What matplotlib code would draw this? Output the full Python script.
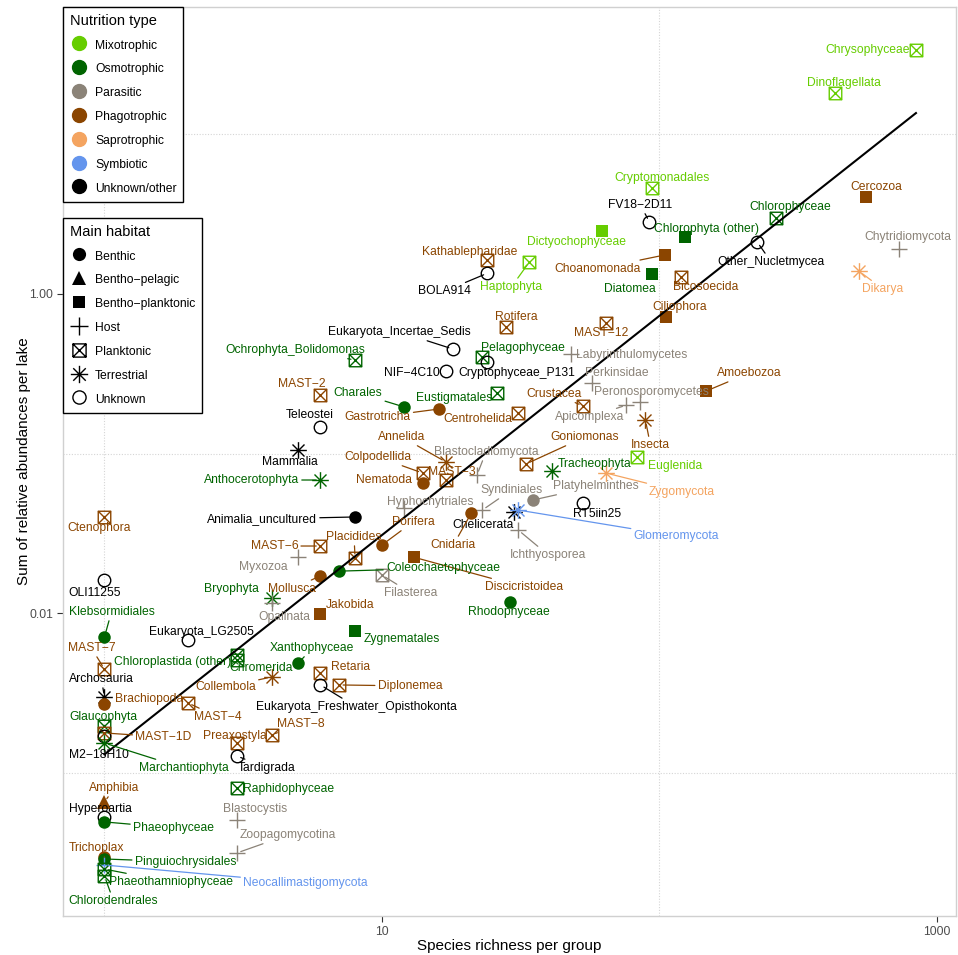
import numpy as np
import matplotlib.pyplot as plt
from matplotlib.path import Path
from matplotlib.lines import Line2D
from matplotlib.ticker import FixedLocator, NullFormatter

plt.rcParams['font.family'] = ['Liberation Sans', 'DejaVu Sans']

groups = ["Chrysophyceae", "Dinoflagellata", "Cryptomonadales", "FV18-2D11", "Chlorophyta (other)",
          "Chlorophyceae", "Other_Nucletmycea", "Cercozoa", "Chytridiomycota", "Dikarya",
          "Choanomonada", "Diatomea", "Bicosoecida", "Ciliophora", "Amoebozoa",
          "Dictyochophyceae", "Haptophyta", "Kathablepharidae", "BOLA914", "Rotifera",
          "MAST-12", "Eukaryota_Incertae_Sedis", "Ochrophyta_Bolidomonas", "Pelagophyceae", "Cryptophyceae_P131",
          "NIF-4C10", "Labyrinthulomycetes", "Perkinsidae", "Peronosporomycetes", "Apicomplexa",
          "Crustacea", "MAST-2", "Charales", "Eustigmatales", "Gastrotricha",
          "Centrohelida", "Teleostei", "Insecta", "Goniomonas", "Annelida",
          "Blastocladiomycota", "Mammalia", "Colpodellida", "MAST-3", "Euglenida",
          "Tracheophyta", "Zygomycota", "Anthocerotophyta", "Nematoda", "Platyhelminthes",
          "Syndiniales", "Hyphochytriales", "RT5iin25", "Chelicerata", "Glomeromycota",
          "Cnidaria", "Animalia_uncultured", "Porifera", "Ichthyosporea", "Placidides",
          "MAST-6", "Myxozoa", "Discicristoidea", "Coleochaetophyceae", "Filasterea",
          "Mollusca", "Bryophyta", "Rhodophyceae", "Opalinata", "Jakobida",
          "Ctenophora", "OLI11255", "Klebsormidiales", "MAST-7", "Archosauria",
          "Brachiopoda", "Glaucophyta", "MAST-1D", "M2-18H10", "Marchantiophyta",
          "Amphibia", "Hyperoartia", "Phaeophyceae", "Trichoplax", "Pinguiochrysidales",
          "Neocallimastigomycota", "Phaeothamniophyceae", "Chlorodendrales", "Eukaryota_LG2505", "Chloroplastida (other)",
          "Chromerida", "Xanthophyceae", "Collembola", "Zygnematales", "Retaria",
          "Eukaryota_Freshwater_Opisthokonta", "Diplonemea", "MAST-4", "MAST-8", "Preaxostyla",
          "Tardigrada", "Raphidophyceae", "Blastocystis", "Zoopagomycotina"]

richness = [840, 429, 94, 92, 124,
            263, 225, 555, 730, 524,
            105, 94, 120, 106, 147,
            62, 34, 24, 24, 28,
            64, 18, 8, 23, 24,
            17, 48, 57, 85, 76,
            53, 6, 12, 26, 16,
            31, 6, 89, 33, 17,
            22, 5, 14, 17, 83,
            41, 64, 6, 14, 35,
            23, 12, 53, 30, 31,
            21, 8, 10, 31, 8,
            6, 5, 13, 7, 10,
            6, 4, 29, 4, 6,
            1, 1, 1, 1, 1,
            1, 1, 1, 1, 1,
            1, 1, 1, 1, 1,
            1, 1, 1, 2, 3,
            3, 5, 4, 8, 6,
            6, 7, 2, 4, 3,
            3, 3, 3, 3]

abundance = [34, 18.2, 4.62, 2.83, 2.28,
             3.0, 2.12, 4.06, 1.92, 1.39,
             1.76, 1.33, 1.28, 0.718, 0.246,
             2.48, 1.59, 1.63, 1.35, 0.621,
             0.658, 0.452, 0.386, 0.403, 0.375,
             0.329, 0.42, 0.277, 0.21, 0.201,
             0.199, 0.233, 0.196, 0.239, 0.19,
             0.179, 0.147, 0.162, 0.0859, 0.0885,
             0.0733, 0.105, 0.0755, 0.0682, 0.0951,
             0.0777, 0.0755, 0.0682, 0.0653, 0.0511,
             0.0442, 0.0455, 0.049, 0.043, 0.0442,
             0.0424, 0.04, 0.0267, 0.0331, 0.0221,
             0.0263, 0.0224, 0.0224, 0.0183, 0.0173,
             0.0171, 0.0124, 0.0117, 0.0115, 0.00986,
             0.04, 0.0161, 0.00707, 0.00445, 0.00297,
             0.00269, 0.00196, 0.00177, 0.00169, 0.00153,
             0.000653, 0.000526, 0.00049, 0.000295, 0.000287,
             0.000263, 0.000248, 0.000225, 0.00677, 0.00545,
             0.00507, 0.00486, 0.00397, 0.0077, 0.00421,
             0.00354, 0.00354, 0.00273, 0.00172, 0.00153,
             0.00127, 0.0008, 0.000504, 0.000313]

# Mix Osm Par Pha Sap Sym Unk
nutrition = ["Mix", "Mix", "Mix", "Unk", "Osm",
             "Osm", "Unk", "Pha", "Par", "Sap",
             "Pha", "Osm", "Pha", "Pha", "Pha",
             "Mix", "Mix", "Pha", "Unk", "Pha",
             "Pha", "Unk", "Osm", "Osm", "Unk",
             "Unk", "Par", "Par", "Par", "Par",
             "Pha", "Pha", "Osm", "Osm", "Pha",
             "Pha", "Unk", "Pha", "Pha", "Pha",
             "Par", "Unk", "Pha", "Pha", "Mix",
             "Osm", "Sap", "Osm", "Pha", "Par",
             "Par", "Par", "Unk", "Unk", "Sym",
             "Pha", "Unk", "Pha", "Par", "Pha",
             "Pha", "Par", "Pha", "Osm", "Par",
             "Pha", "Osm", "Osm", "Par", "Pha",
             "Pha", "Unk", "Osm", "Pha", "Unk",
             "Pha", "Osm", "Pha", "Unk", "Osm",
             "Pha", "Unk", "Osm", "Pha", "Osm",
             "Sym", "Osm", "Osm", "Unk", "Osm",
             "Osm", "Osm", "Pha", "Osm", "Pha",
             "Unk", "Pha", "Pha", "Pha", "Pha",
             "Unk", "Osm", "Par", "Par"]

# B benthic, BPe bentho-pelagic, BPl bentho-planktonic, H host, P planktonic, T terrestrial, U unknown
habitat = ["P", "P", "P", "U", "BPl",
           "P", "U", "BPl", "H", "T",
           "BPl", "BPl", "P", "BPl", "BPl",
           "BPl", "P", "P", "U", "P",
           "P", "U", "P", "P", "U",
           "U", "H", "H", "H", "H",
           "P", "P", "B", "P", "B",
           "P", "U", "T", "P", "T",
           "H", "T", "P", "P", "P",
           "T", "T", "T", "B", "B",
           "H", "H", "U", "T", "T",
           "B", "B", "B", "H", "P",
           "P", "H", "BPl", "B", "P",
           "B", "T", "B", "H", "BPl",
           "P", "U", "B", "P", "T",
           "B", "P", "P", "U", "T",
           "BPe", "U", "B", "B", "B",
           "H", "P", "P", "U", "P",
           "P", "B", "T", "BPl", "P",
           "U", "P", "P", "P", "P",
           "U", "P", "H", "H"]

nutr_names = {"Mix": "Mixotrophic", "Osm": "Osmotrophic", "Par": "Parasitic", "Pha": "Phagotrophic",
              "Sap": "Saprotrophic", "Sym": "Symbiotic", "Unk": "Unknown/other"}
nutr_colors = {"Mix": "#66CD00", "Osm": "#006400", "Par": "#8B8378", "Pha": "#8B4500",
               "Sap": "#F4A460", "Sym": "#6495ED", "Unk": "#000000"}
hab_names = {"B": "Benthic", "BPe": "Bentho\u2212pelagic", "BPl": "Bentho\u2212planktonic", "H": "Host",
             "P": "Planktonic", "T": "Terrestrial", "U": "Unknown"}

# label placement (pixel offsets from the point, right / up)
label_offset = {
    "Chrysophyceae": (-48, 0), "Dinoflagellata": (9, 10), "Cryptomonadales": (10, 10),
    "FV18-2D11": (-9, 17), "Chlorophyta (other)": (21, 8), "Chlorophyceae": (14, 11),
    "Other_Nucletmycea": (14, -20), "Cercozoa": (10, 10), "Chytridiomycota": (9, 12),
    "Dikarya": (24, -18), "Choanomonada": (-68, -14), "Diatomea": (-22, -15),
    "Bicosoecida": (24, -10), "Ciliophora": (13, 10), "Amoebozoa": (43, 18),
    "Dictyochophyceae": (-25, -11), "Haptophyta": (-18, -25), "Kathablepharidae": (-18, 8),
    "BOLA914": (-43, -18), "Rotifera": (10, 10), "MAST-12": (-4, -10),
    "Eukaryota_Incertae_Sedis": (-53, 17), "Ochrophyta_Bolidomonas": (-60, 10), "Pelagophyceae": (41, 9),
    "Cryptophyceae_P131": (29, -11), "NIF-4C10": (-34, -2), "Labyrinthulomycetes": (61, -1),
    "Perkinsidae": (25, 10), "Peronosporomycetes": (12, 10), "Apicomplexa": (-37, -12),
    "Crustacea": (-29, 12), "MAST-2": (-19, 11), "Charales": (-46, 14),
    "Eustigmatales": (-43, -5), "Gastrotricha": (-61, -8), "Centrohelida": (-40, -6),
    "Teleostei": (-11, 12), "Insecta": (5, -25), "Goniomonas": (59, 27),
    "Annelida": (-44, 25), "Blastocladiomycota": (9, 23), "Mammalia": (-9, -12),
    "Colpodellida": (-45, 16), "MAST-3": (6, 8), "Euglenida": (38, -9),
    "Tracheophyta": (43, 7), "Zygomycota": (76, -19), "Anthocerotophyta": (-69, 0),
    "Nematoda": (-39, 3), "Platyhelminthes": (63, 14), "Syndiniales": (29, 20),
    "Hyphochytriales": (26, 6), "RT5iin25": (14, -11), "Chelicerata": (-31, -13),
    "Glomeromycota": (158, -26), "Cnidaria": (-18, -32), "Animalia_uncultured": (-93, -2),
    "Porifera": (31, 23), "Ichthyosporea": (30, -25), "Placidides": (-1, 21),
    "MAST-6": (-46, 0), "Myxozoa": (-35, -10), "Discicristoidea": (110, -30),
    "Coleochaetophyceae": (104, 3), "Filasterea": (29, -18), "Mollusca": (-28, -13),
    "Bryophyta": (-40, 9), "Rhodophyceae": (-1, -10), "Opalinata": (13, -14),
    "Jakobida": (30, 9), "Ctenophora": (-5, -11), "OLI11255": (-10, -13),
    "Klebsormidiales": (7, 25), "MAST-7": (-13, 21), "Archosauria": (-3, 18),
    "Brachiopoda": (45, 5), "Glaucophyta": (-1, 9), "MAST-1D": (59, -4),
    "M2-18H10": (-6, -19), "Marchantiophyta": (79, -25), "Amphibia": (10, 14),
    "Hyperoartia": (-4, 8), "Phaeophyceae": (69, -6), "Trichoplax": (-8, 9),
    "Pinguiochrysidales": (81, -3), "Neocallimastigomycota": (201, -18), "Phaeothamniophyceae": (67, -13),
    "Chlorodendrales": (9, -25), "Eukaryota_LG2505": (13, 8), "Chloroplastida (other)": (-64, -7),
    "Chromerida": (24, -8), "Xanthophyceae": (14, 15), "Collembola": (-46, -10),
    "Zygnematales": (47, -8), "Retaria": (30, 6), "Eukaryota_Freshwater_Opisthokonta": (36, -22),
    "Diplonemea": (71, -1), "MAST-4": (30, -14), "MAST-8": (29, 11),
    "Preaxostyla": (-2, 7), "Tardigrada": (30, -12), "Raphidophyceae": (52, -1),
    "Blastocystis": (18, 11), "Zoopagomycotina": (51, 18),
}
with_line = {"FV18-2D11", "Other_Nucletmycea", "Dikarya", "Choanomonada", "Haptophyta", "BOLA914",
             "Amoebozoa", "Eukaryota_Incertae_Sedis", "Ochrophyta_Bolidomonas", "Charales", "Gastrotricha",
             "Crustacea", "Apicomplexa", "Insecta", "Goniomonas", "Annelida", "Blastocladiomycota",
             "Colpodellida", "Zygomycota", "Platyhelminthes", "Syndiniales", "Glomeromycota", "Cnidaria",
             "Porifera", "Animalia_uncultured", "Ichthyosporea", "Placidides", "MAST-6", "Anthocerotophyta",
             "Discicristoidea", "Coleochaetophyceae", "Filasterea", "Mollusca", "Klebsormidiales", "MAST-7",
             "Archosauria", "MAST-1D", "Marchantiophyta", "Phaeophyceae", "Pinguiochrysidales",
             "Neocallimastigomycota", "Phaeothamniophyceae", "Chlorodendrales",
             "Eukaryota_Freshwater_Opisthokonta", "Diplonemea", "MAST-4", "Zoopagomycotina", "Collembola",
             "Xanthophyceae", "Tardigrada", "Jakobida", "MAST-8", "Amphibia", "Trichoplax"}

# marker shapes like ggplot 16, 17, 15, 3, 7, 8, 1
boxx = Path([(-1, -1), (1, -1), (1, 1), (-1, 1), (-1, -1), (-1, -1), (1, 1), (-1, 1), (1, -1)],
            [1, 2, 2, 2, 2, 1, 2, 1, 2])
d = 0.72
aster = Path([(-1, 0), (1, 0), (0, -1), (0, 1), (-d, -d), (d, d), (-d, d), (d, -d)],
             [1, 2, 1, 2, 1, 2, 1, 2])
hab_style = {"B": dict(marker="o", ms=9, filled=True),
             "BPe": dict(marker="^", ms=10, filled=True),
             "BPl": dict(marker="s", ms=8.5, filled=True),
             "H": dict(marker="+", ms=12, filled=False),
             "P": dict(marker=boxx, ms=9, filled=False),
             "T": dict(marker=aster, ms=12, filled=False),
             "U": dict(marker="o", ms=9, filled=False)}

fig = plt.figure(figsize=(9.58, 9.55), dpi=100)
ax = fig.add_axes([63 / 958, 1 - 916 / 955, (956 - 63) / 958, (916 - 7) / 955])
ax.set_xscale("log")
ax.set_yscale("log")
ax.set_xlim(0.709, 1171)
ax.set_ylim(1.26e-4, 63)


def draw_marker(x, y, hab, color, **kw):
    st = hab_style[hab]
    return ax.plot(x, y, linestyle="none", marker=st["marker"], markersize=st["ms"],
                   markerfacecolor=color if st["filled"] else "none",
                   markeredgecolor=color, markeredgewidth=0.0 if st["filled"] else 1.0, **kw)


for g, x, y, n, h in zip(groups, richness, abundance, nutrition, habitat):
    draw_marker(x, y, h, nutr_colors[n], zorder=3)

# regression line on log-log scale
lx, ly = np.log10(richness), np.log10(abundance)
slope, icpt = np.polyfit(lx, ly, 1)
xs = np.logspace(lx.min(), lx.max(), 50)
ax.plot(xs, 10 ** (icpt + slope * np.log10(xs)), color="black", lw=1.5, zorder=4)

for g, x, y, n in zip(groups, richness, abundance, nutrition):
    dx, dy = label_offset[g]
    c = nutr_colors[n]
    arrow = dict(arrowstyle="-", color=c, lw=0.9, shrinkA=0, shrinkB=3) if g in with_line else None
    ax.annotate(g.replace("-", "\u2212"), xy=(x, y), xytext=(dx, dy), textcoords="offset pixels",
                ha="center", va="center", fontsize=8.7, color=c, arrowprops=arrow, zorder=5)

# axes styling
ax.set_xticks([10, 1000], labels=["10", "1000"])
ax.set_yticks([0.01, 1], labels=["0.01", "1.00"])
ax.xaxis.set_minor_locator(FixedLocator([1, 100]))
ax.yaxis.set_minor_locator(FixedLocator([0.001, 0.1, 10]))
ax.xaxis.set_minor_formatter(NullFormatter())
ax.yaxis.set_minor_formatter(NullFormatter())
ax.tick_params(which="minor", length=0)
ax.tick_params(which="major", length=4, width=0.8, color="#333333", labelsize=8.7,
               labelcolor="#4D4D4D", pad=3)
ax.grid(which="minor", linestyle=(0, (1, 1.5)), color="#D5D5D5", lw=0.8)
ax.grid(which="major", visible=False)
ax.set_axisbelow(True)
for s in ax.spines.values():
    s.set_color("#D0D0D0")
    s.set_linewidth(1.0)
ax.set_xlabel("Species richness per group", fontsize=11, labelpad=1)
ax.set_ylabel("Sum of relative abundances per lake", fontsize=11, labelpad=-1)

# legends
h1 = [Line2D([], [], linestyle="none", marker="o", markersize=10, color=nutr_colors[k]) for k in nutr_names]
leg_kw = dict(loc="upper left", borderaxespad=0, fontsize=8.7, title_fontsize=10.5,
              frameon=True, fancybox=False, edgecolor="black", framealpha=1,
              handlelength=1.6, handleheight=1.4, labelspacing=0.82, handletextpad=0.5,
              borderpad=0.55, alignment="left")
leg1 = ax.legend(h1, list(nutr_names.values()), title="Nutrition type", bbox_to_anchor=(0, 1), **leg_kw)
leg1.get_frame().set_linewidth(1.0)
ax.add_artist(leg1)

h2 = []
for k in hab_names:
    st = hab_style[k]
    h2.append(Line2D([], [], linestyle="none", marker=st["marker"], markersize=st["ms"] + 0.5,
                     markerfacecolor="black" if st["filled"] else "none", markeredgecolor="black",
                     markeredgewidth=0.0 if st["filled"] else 1.0))
leg2 = ax.legend(h2, list(hab_names.values()), title="Main habitat",
                 bbox_to_anchor=(0, 1 - 211 / 909), **leg_kw)
leg2.get_frame().set_linewidth(1.0)

fig.savefig("out.png", dpi=100)
